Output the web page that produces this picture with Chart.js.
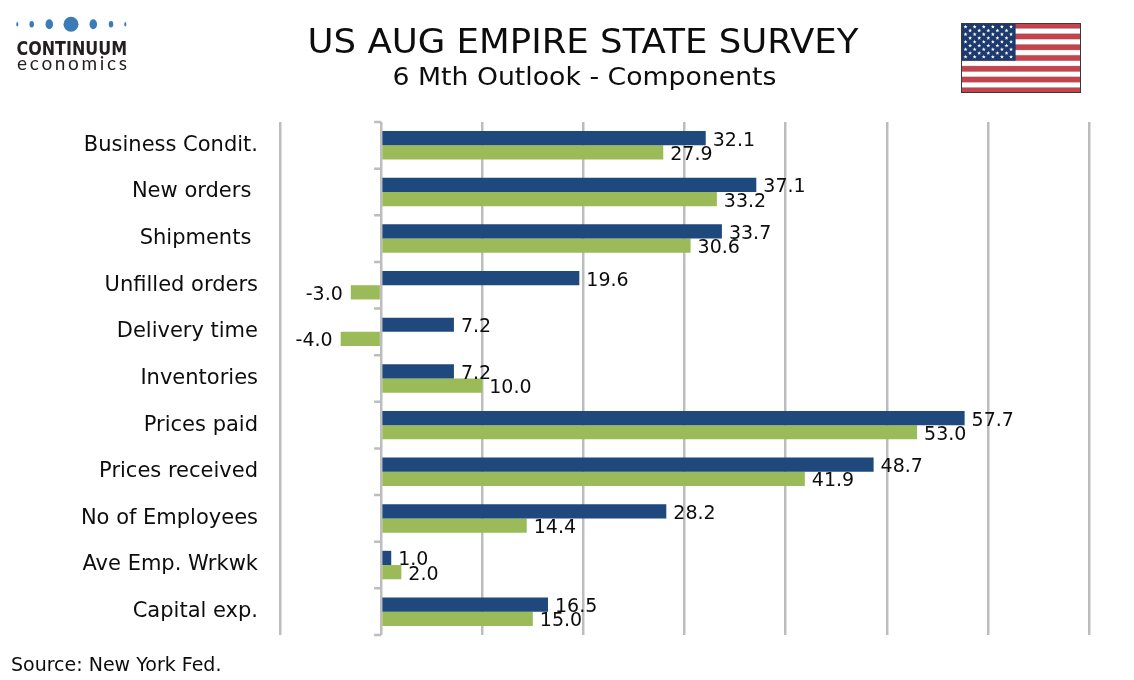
<!DOCTYPE html>
<html><head><meta charset="utf-8">
<script src="https://cdn.jsdelivr.net/npm/chart.js@4.4.1/dist/chart.umd.min.js"></script>
<style>html,body{margin:0;padding:0;background:#fff;}canvas{display:block;}</style>
</head><body>
<canvas id="c" width="1134" height="680"></canvas>
<script>
// ---- data ----
const categories = ['Business Condit.', 'New orders ', 'Shipments ', 'Unfilled orders', 'Delivery time', 'Inventories', 'Prices paid', 'Prices received', 'No of Employees', 'Ave Emp. Wrkwk', 'Capital exp.'];
const augValues = [32.1, 37.1, 33.7, 19.6, 7.2, 7.2, 57.7, 48.7, 28.2, 1.0, 16.5];
const julValues = [27.9, 33.2, 30.6, -3.0, -4.0, 10.0, 53.0, 41.9, 14.4, 2.0, 15.0];
const seriesNames = ['Aug', 'Jul'];
const xTickValues = [-10, 0, 10, 20, 30, 40, 50, 60, 70];
const titleText = 'US AUG EMPIRE STATE SURVEY';
const subtitleText = '6 Mth Outlook - Components';
const sourceText = 'Source: New York Fed.';

// ---- helpers ----
function fitText(ctx, text, x, y, font, targetW, align) {
  ctx.save();
  ctx.font = font;
  const w = ctx.measureText(text).width;
  const s = targetW / w;
  let left = x;
  if (align === 'center') left = x - targetW / 2;
  ctx.translate(left, y);
  ctx.scale(s, 1);
  ctx.textAlign = 'left';
  ctx.textBaseline = 'alphabetic';
  ctx.fillText(text, 0, 0);
  ctx.restore();
}
function spacedText(ctx, text, x, y, font, targetW) {
  ctx.save();
  ctx.font = font;
  ctx.textBaseline = 'alphabetic';
  ctx.textAlign = 'left';
  const ws = [...text].map(ch => ctx.measureText(ch).width);
  const total = ws.reduce((a, b) => a + b, 0);
  const gap = (targetW - total) / (text.length - 1);
  let cx = x;
  [...text].forEach((ch, i) => { ctx.fillText(ch, cx, y); cx += ws[i] + gap; });
  ctx.restore();
}
function star(ctx, cx, cy, r) {
  ctx.beginPath();
  for (let i = 0; i < 10; i++) {
    const rr = i % 2 === 0 ? r : r * 0.42;
    const a = -Math.PI / 2 + i * Math.PI / 5;
    const px = cx + rr * Math.cos(a), py = cy + rr * Math.sin(a);
    i === 0 ? ctx.moveTo(px, py) : ctx.lineTo(px, py);
  }
  ctx.closePath();
  ctx.fill();
}
function drawFlag(ctx, x, y, w, h) {
  const sh = h / 13;
  ctx.fillStyle = '#ffffff';
  ctx.fillRect(x, y, w, h);
  ctx.fillStyle = '#c8424c';
  for (let i = 0; i < 13; i += 2) ctx.fillRect(x, y + i * sh, w, sh);
  ctx.strokeStyle = 'rgba(90,90,90,0.35)';
  ctx.lineWidth = 0.8;
  for (let i = 1; i < 13; i++) { ctx.beginPath(); ctx.moveTo(x, y + i * sh); ctx.lineTo(x + w, y + i * sh); ctx.stroke(); }
  const cw = w * 0.455, ch = sh * 7;
  ctx.fillStyle = '#1d3a6e';
  ctx.fillRect(x, y, cw, ch);
  ctx.fillStyle = '#ffffff';
  for (let r = 0; r < 9; r++) {
    const n = r % 2 === 0 ? 6 : 5;
    for (let c = 0; c < n; c++) {
      const fx = r % 2 === 0 ? (2 * c + 1) / 12 : (2 * c + 2) / 12;
      star(ctx, x + cw * fx, y + ch * (r + 1) / 10, 2.1);
    }
  }
  ctx.strokeStyle = '#3a3a3a';
  ctx.lineWidth = 1;
  ctx.strokeRect(x + 0.5, y + 0.5, w - 1, h - 1);
}
function drawLogo(ctx) {
  const dots = [[17.3, 2, 4.5], [31.7, 4.5, 6.5], [49.3, 7.5, 10], [71, 15, 15], [93.3, 7.5, 10], [111, 4.5, 6.5], [125.3, 2, 4.5]];
  ctx.fillStyle = '#3b7bb7';
  dots.forEach(d => { ctx.beginPath(); ctx.ellipse(d[0], 24.3, d[1] / 2, d[2] / 2, 0, 0, Math.PI * 2); ctx.fill(); });
  ctx.fillStyle = '#231f20';
  fitText(ctx, 'CONTINUUM', 16.5, 54.5, 'bold 20px "DejaVu Sans"', 110.5, 'left');
  spacedText(ctx, 'economics', 17, 70, '400 19px Lato', 110);
}

// ---- plugins ----
const decorPlugin = {
  id: 'decor',
  afterDraw(chart) {
    const ctx = chart.ctx;
    ctx.save();
    ctx.fillStyle = '#0d0d0d';
    fitText(ctx, titleText, 583, 53, '34px "DejaVu Sans"', 551, 'center');
    fitText(ctx, subtitleText, 584.5, 85, '25px "DejaVu Sans"', 384, 'center');
    ctx.font = '19px "DejaVu Sans"';
    ctx.textAlign = 'left';
    ctx.textBaseline = 'alphabetic';
    ctx.fillText(sourceText, 11, 671);
    drawLogo(ctx);
    drawFlag(ctx, 961, 23, 120, 70);
    ctx.restore();
  }
};
const axisTicksPlugin = {
  id: 'axisTicks',
  afterDatasetsDraw(chart) {
    const ctx = chart.ctx, xs = chart.scales.x, ys = chart.scales.y;
    const zx = xs.getPixelForValue(0);
    ctx.save();
    ctx.strokeStyle = '#bdbdbd';
    ctx.lineWidth = 2.5;
    ctx.beginPath();
    for (let i = 0; i <= categories.length; i++) {
      const py = ys.getPixelForValue(i - 0.5);
      ctx.moveTo(zx - 7, py);
      ctx.lineTo(zx, py);
    }
    ctx.stroke();
    ctx.restore();
  }
};
const valueLabelPlugin = {
  id: 'valueLabels',
  afterDatasetsDraw(chart) {
    const ctx = chart.ctx;
    const sx = 0.95;
    ctx.save();
    ctx.fillStyle = '#0d0d0d';
    ctx.font = '20px "DejaVu Sans"';
    ctx.textBaseline = 'alphabetic';
    chart.data.datasets.forEach((ds, di) => {
      const meta = chart.getDatasetMeta(di);
      meta.data.forEach((el, i) => {
        const v = ds.data[i];
        const txt = v.toFixed(1);
        ctx.save();
        if (v >= 0) {
          ctx.translate(el.x + 7, el.y + 7.5);
          ctx.textAlign = 'left';
        } else {
          ctx.translate(el.x - 8, el.y + 7.5);
          ctx.textAlign = 'right';
        }
        ctx.scale(sx, 1);
        ctx.fillText(txt, 0, 0);
        ctx.restore();
      });
    });
    ctx.restore();
  }
};

new Chart(document.getElementById('c').getContext('2d'), {
  type: 'bar',
  data: {
    labels: categories,
    datasets: [
      { label: seriesNames[0], data: augValues, backgroundColor: '#1f497d', categoryPercentage: 0.61, barPercentage: 1.0 },
      { label: seriesNames[1], data: julValues, backgroundColor: '#9bbb59', categoryPercentage: 0.61, barPercentage: 1.0 }
    ]
  },
  options: {
    indexAxis: 'y',
    responsive: false,
    animation: false,
    devicePixelRatio: 1,
    layout: { padding: { top: 122, bottom: 45, left: 0, right: 45 } },
    plugins: { legend: { display: false }, title: { display: false }, tooltip: { enabled: false } },
    scales: {
      x: {
        min: xTickValues[0], max: xTickValues[xTickValues.length - 1],
        ticks: { display: false, stepSize: xTickValues[1] - xTickValues[0] },
        grid: { color: '#bdbdbd', lineWidth: 2.5, drawTicks: false },
        border: { display: false },
        afterFit(s) { s.height = 0; }
      },
      y: {
        grid: { display: false, drawTicks: false },
        border: { display: false },
        ticks: { padding: 22, color: '#0d0d0d', font: { family: 'DejaVu Sans', size: 21 } },
        afterFit(s) { s.width = 280; }
      }
    }
  },
  plugins: [axisTicksPlugin, valueLabelPlugin, decorPlugin]
});
</script>
</body></html>
